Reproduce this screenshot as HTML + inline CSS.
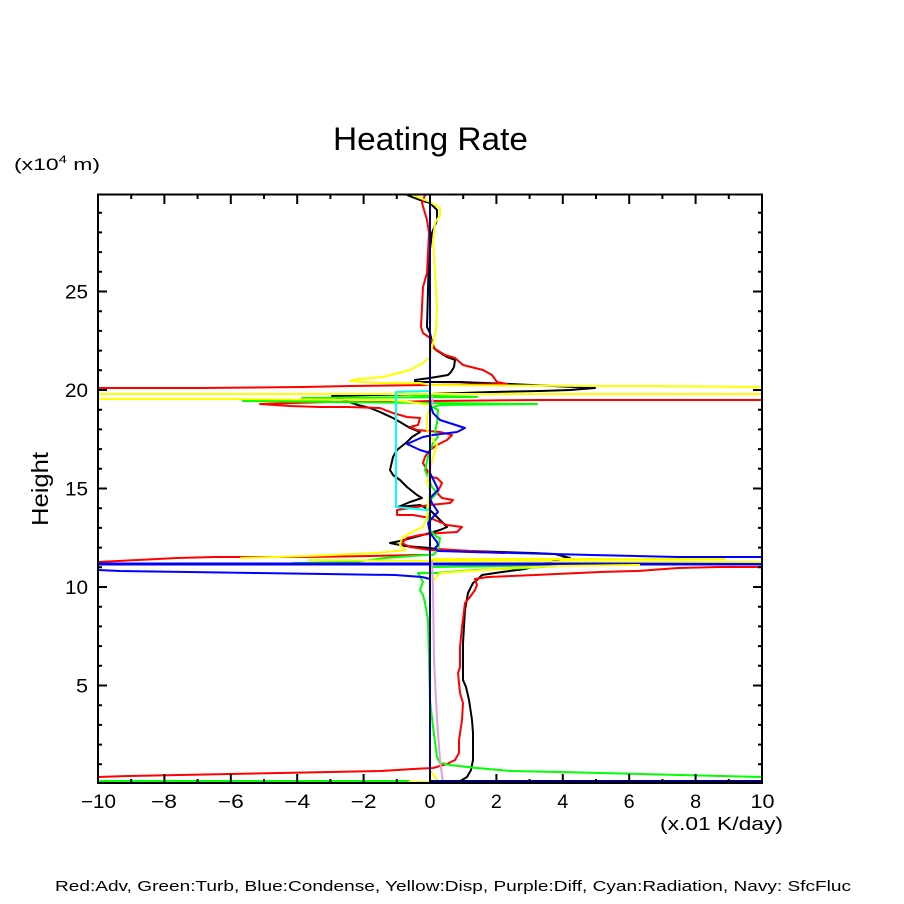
<!DOCTYPE html>
<html><head><meta charset="utf-8"><style>
html,body{margin:0;padding:0;background:#fff;}
svg{display:block;}
text{font-family:"Liberation Sans",sans-serif;fill:#000;}
</style></head><body>
<svg width="904" height="904" viewBox="0 0 904 904" xmlns="http://www.w3.org/2000/svg">
<rect width="904" height="904" fill="#fff"/>
<defs><clipPath id="c"><rect x="98" y="195" width="664" height="588"/></clipPath></defs>

<text x="333" y="150" font-size="32" textLength="195" lengthAdjust="spacingAndGlyphs">Heating Rate</text>
<text x="14" y="170" font-size="17" textLength="86" lengthAdjust="spacingAndGlyphs">(x10<tspan font-size="11" dy="-7">4</tspan><tspan dy="7"> m)</tspan></text>

<g clip-path="url(#c)" fill="none" stroke-width="2" stroke-linejoin="round">
<!-- black -->
<polyline stroke="#000" points="407,195 412,197 420,200 430,203 437,210 437,220 432,233 429,257 428,290 427,327 430,333 433,347 436,350 447,357 455,360 454,367 451,372 448,375 430,378 415,380 415,382 460,382 510,384 595,388 570,390 540,391 492,392 430,394 373,395 332,396 358,405 370,408 380,412 393,418 400,422 410,428 420,432 412,437 407,442 397,450 393,457 390,470 393,475 400,480 407,487 417,495 422,498 410,502 398,507 420,505 430,510 440,520 447,527 440,530 430,533 415,537 400,541 390,543 405,546 430,548 440,550 533,553 555,554 570,558 560,559 525,569 502,572 482,575 477,580 473,583 468,593 465,610 463,643 463,680 466,687 469,700 472,720 473,733 473,760 471,770 467,777 462,780 457,783"/>
<!-- red -->
<polyline stroke="#f00" points="425,195 422,203 427,220 429,233 427,273 423,287 422,307 421,327 423,333 430,338 435,349 445,355 455,358 463,365 483,370 492,375 497,382 507,384 350,386 303,387 200,388 97,388"/>
<polyline stroke="#f00" points="763,400 590,400 540,400 430,401 397,402 330,402 260,404 290,406 320,407 348,407 380,408 393,413 407,417 420,418 418,425 410,427 417,430 440,432 452,435 447,440 437,445 430,450 425,457 423,463 427,470 430,477 437,478 442,483 437,493 442,498 453,500 450,503 430,505 397,510 397,515 413,515 430,518 447,525 462,527 457,532 440,533 420,535 407,538 402,543 410,547 430,550 470,552 505,553"/>
<polyline stroke="#f00" points="438,549 470,551 505,553"/>
<polyline stroke="#f00" points="428,555 415,555 372,556 308,557 215,557 177,558 138,560 97,562"/>
<polyline stroke="#f00" points="97,564.5 763,564.5"/>
<polyline stroke="#f00" points="763,567 718,567 678,568 638,571 600,572 535,575 488,577 475,579 477,585 475,590 470,597 465,603 462,627 460,647 460,667 458,673 460,693 463,703 462,720 459,740 459,753 455,760 447,764 433,768 413,769 380,771 330,772 280,773 230,774 180,775 130,776 97,777"/>
<!-- green -->
<polyline stroke="#0f0" points="437,395 410,395 437,396 477,397 302,398 330,400 243,401 330,402 537,404 440,405 433,407 438,410 437,423 435,432 438,437 433,443 428,457 425,470 428,477 432,487 437,493 430,500 427,507 428,517 430,530 437,537 440,538 438,550 433,555 425,555 385,558 355,562 292,563"/>
<polyline stroke="#0f0" points="432,567 500,566 558,565"/>
<polyline stroke="#0f0" points="558,566 525,568 475,570 435,573 418,573 423,582 420,590 423,595 425,603 428,620 429,660 430,700 433,727 437,757 440,763 450,765 477,768 510,771 560,772 600,773 680,775 763,777"/>
<polyline stroke="#0f0" points="97,781 410,781"/>
<!-- blue -->
<polyline stroke="#00f" points="430,400 430,403 433,413 440,420 465,428 457,432 433,435 423,437 407,444 420,450 430,453 430,473 437,487 438,490 430,498 432,503 438,512 433,517 428,523 430,533 437,542 438,545 435,548 438,551 592,555 678,557 763,557"/>
<polyline stroke="#00f" stroke-width="3" points="97,564 763,564"/>
<polyline stroke="#00f" points="97,570 120,571 188,572 257,573 325,574 395,575 422,577 430,579 430,582"/>
<!-- yellow -->
<polyline stroke="#ff0" points="412,195 430,202 440,208 440,215 435,223 433,240 435,273 437,307 436,330 433,343 430,357 423,363 410,370 383,377 357,379 350,381 380,383 420,383 430,385 590,386 650,386 763,387"/>
<polyline stroke="#ff0" points="97,394 763,394"/>
<polyline stroke="#ff0" points="97,399 243,399 390,400 410,402 430,405 427,417 427,430 433,440 437,445 433,457 430,470 427,483 430,490 428,503 427,517 423,527 410,533 402,538 400,545 405,550 378,553 308,556 240,558"/>
<polyline stroke="#ff0" points="430,559 725,559"/>
<polyline stroke="#ff0" points="308,560 430,561 763,562"/>
<polyline stroke="#ff0" points="432,582 440,573 442,573 468,571 512,568 558,566 640,565"/>
<polyline stroke="#ff0" points="430,770 437,780 442,783"/>
<polyline stroke="#ff0" points="408,782 430,782"/>
<!-- purple -->
<polyline stroke="#dd9fdd" points="432,396 433,405"/>
<polyline stroke="#dd9fdd" points="432,560 433,590 434,660 437,720 440,760 443,783"/>
<!-- cyan -->
<polyline stroke="#0ff" points="430,391 396,392 396,507 427,510 430,510"/>
<!-- navy -->
<polyline stroke="#000080" points="430,195 430,781 763,781"/>
</g>

<!-- frame -->
<rect x="98" y="194.5" width="664" height="588.5" fill="none" stroke="#000" stroke-width="2"/>
<g stroke="#000" stroke-width="2">
<!-- x ticks -->
<path d="M131.2,783v-4M164.4,783v-9M197.6,783v-4M230.8,783v-9M264,783v-4M297.2,783v-9M330.4,783v-4M363.6,783v-9M396.8,783v-4M430,783v-9M463.2,783v-4M496.4,783v-9M529.6,783v-4M562.8,783v-9M596,783v-4M629.2,783v-9M662.4,783v-4M695.6,783v-9M728.8,783v-4"/>
<path d="M131.2,195v4M164.4,195v9M197.6,195v4M230.8,195v9M264,195v4M297.2,195v9M330.4,195v4M363.6,195v9M396.8,195v4M430,195v9M463.2,195v4M496.4,195v9M529.6,195v4M562.8,195v9M596,195v4M629.2,195v9M662.4,195v4M695.6,195v9M728.8,195v4"/>
<!-- y ticks left -->
<path d="M98,764.3h4M98,744.6h4M98,724.9h4M98,705.2h4M98,685.5h9M98,665.8h4M98,646.1h4M98,626.4h4M98,606.7h4M98,587h9M98,567.3h4M98,547.6h4M98,527.9h4M98,508.2h4M98,488.5h9M98,468.8h4M98,449.1h4M98,429.4h4M98,409.7h4M98,390h9M98,370.3h4M98,350.6h4M98,330.9h4M98,311.2h4M98,291.5h9M98,271.8h4M98,252.1h4M98,232.4h4M98,212.7h4"/>
<path d="M762,764.3h-4M762,744.6h-4M762,724.9h-4M762,705.2h-4M762,685.5h-9M762,665.8h-4M762,646.1h-4M762,626.4h-4M762,606.7h-4M762,587h-9M762,567.3h-4M762,547.6h-4M762,527.9h-4M762,508.2h-4M762,488.5h-9M762,468.8h-4M762,449.1h-4M762,429.4h-4M762,409.7h-4M762,390h-9M762,370.3h-4M762,350.6h-4M762,330.9h-4M762,311.2h-4M762,291.5h-9M762,271.8h-4M762,252.1h-4M762,232.4h-4M762,212.7h-4"/>
</g>

<!-- y labels -->
<g font-size="19" text-anchor="end">
<text x="88" y="692.5" textLength="12" lengthAdjust="spacingAndGlyphs">5</text>
<text x="88" y="594" textLength="23" lengthAdjust="spacingAndGlyphs">10</text>
<text x="88" y="495.5" textLength="23" lengthAdjust="spacingAndGlyphs">15</text>
<text x="88" y="397" textLength="23" lengthAdjust="spacingAndGlyphs">20</text>
<text x="88" y="298.5" textLength="23" lengthAdjust="spacingAndGlyphs">25</text>
</g>
<!-- x labels -->
<g font-size="19">
<text x="81" y="808" textLength="35" lengthAdjust="spacingAndGlyphs">−10</text>
<text x="151" y="808" textLength="26" lengthAdjust="spacingAndGlyphs">−8</text>
<text x="217.8" y="808" textLength="26" lengthAdjust="spacingAndGlyphs">−6</text>
<text x="284.2" y="808" textLength="26" lengthAdjust="spacingAndGlyphs">−4</text>
<text x="350.6" y="808" textLength="26" lengthAdjust="spacingAndGlyphs">−2</text>
<text x="424.5" y="808" textLength="11" lengthAdjust="spacingAndGlyphs">0</text>
<text x="490.9" y="808" textLength="11" lengthAdjust="spacingAndGlyphs">2</text>
<text x="557.3" y="808" textLength="11" lengthAdjust="spacingAndGlyphs">4</text>
<text x="623.7" y="808" textLength="11" lengthAdjust="spacingAndGlyphs">6</text>
<text x="690.1" y="808" textLength="11" lengthAdjust="spacingAndGlyphs">8</text>
<text x="750.5" y="808" textLength="24" lengthAdjust="spacingAndGlyphs">10</text>
</g>
<text x="660" y="830" font-size="18" textLength="123" lengthAdjust="spacingAndGlyphs">(x.01 K/day)</text>
<text transform="translate(48,489) rotate(-90)" text-anchor="middle" font-size="23" textLength="74" lengthAdjust="spacingAndGlyphs">Height</text>
<text x="55" y="891" font-size="15" textLength="796" lengthAdjust="spacingAndGlyphs">Red:Adv, Green:Turb, Blue:Condense, Yellow:Disp, Purple:Diff, Cyan:Radiation, Navy: SfcFluc</text>
</svg>
</body></html>
